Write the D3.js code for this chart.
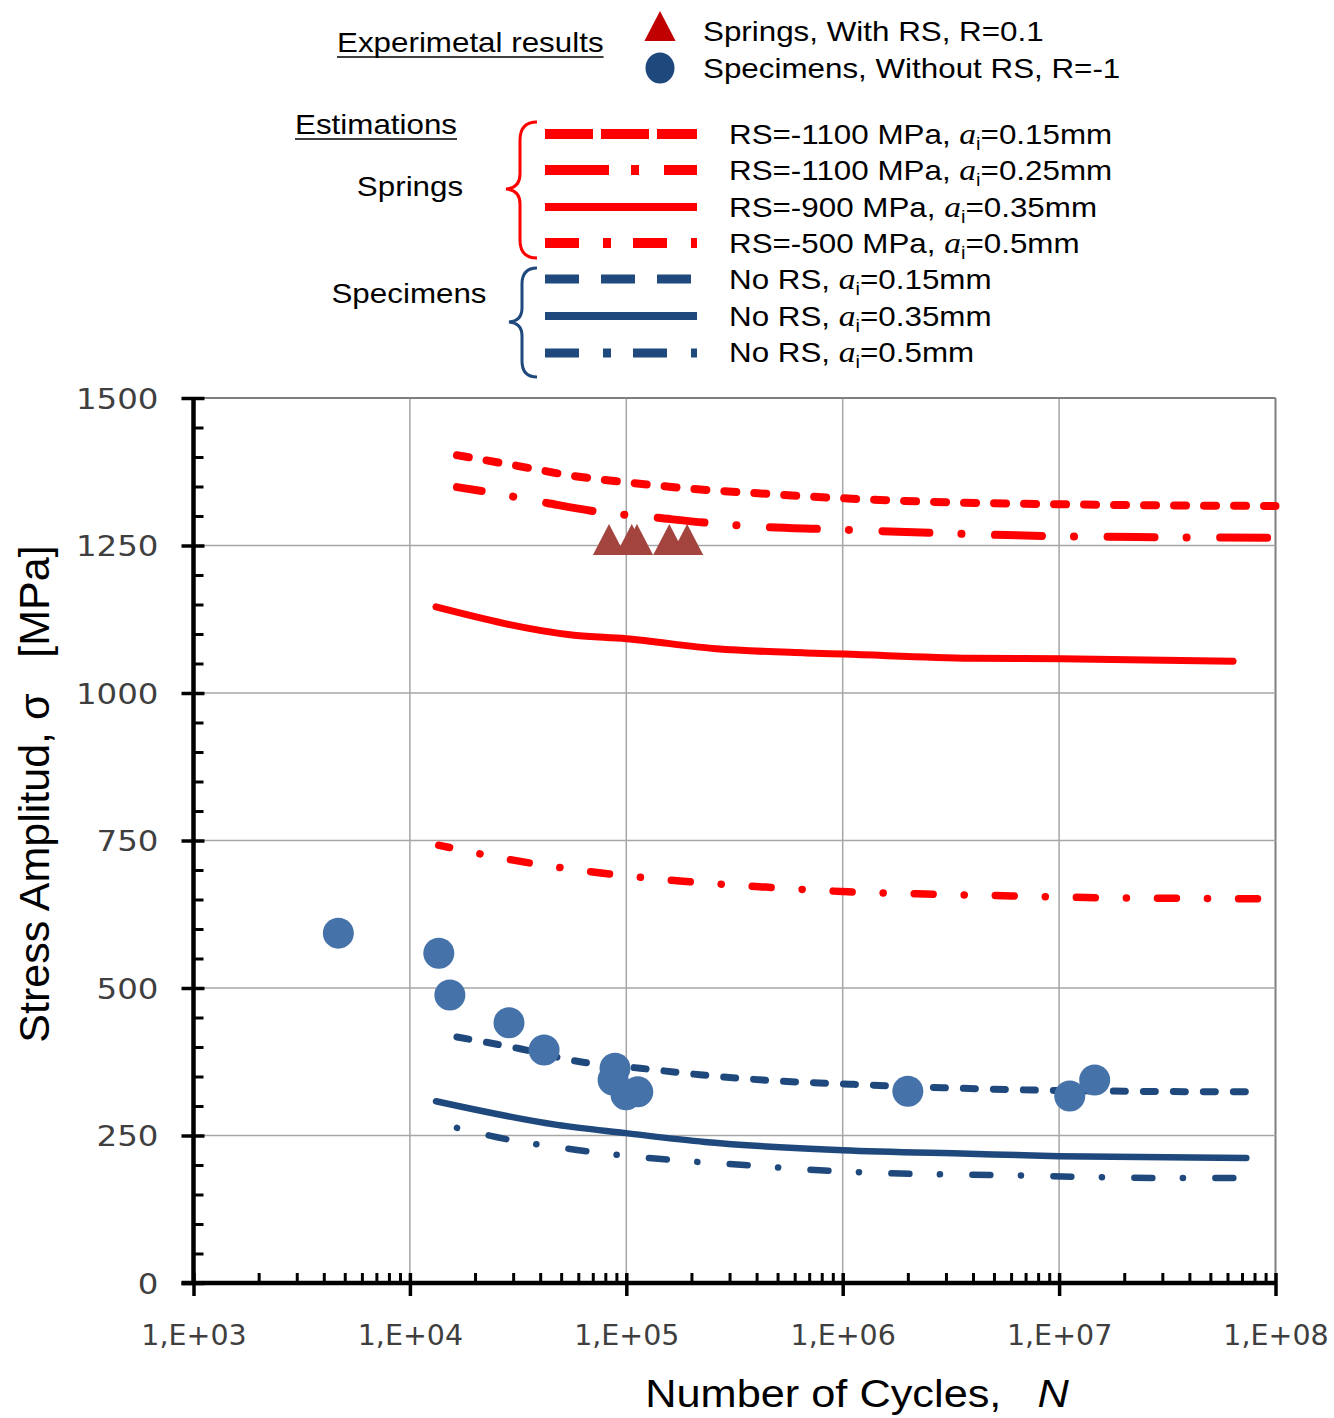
<!DOCTYPE html>
<html>
<head>
<meta charset="utf-8">
<script src="https://cdn.jsdelivr.net/npm/d3@7"></script>
<style>
  body { margin: 0; background: #fff; }
  svg { display: block; }
  text { white-space: pre; }
</style>
</head>
<body>
<svg id="chart" width="1334" height="1418"></svg>
<script>
// ---- data -------------------------------------------------------------
// Experimental results
const springCycles   = [83200, 106000, 112000, 158000, 191000];
const springStress   = [1260, 1260, 1260, 1260, 1260];
const specimenCycles = [4670, 13600, 15300, 28700, 41700, 88700, 86900, 99700, 113000, 2000000, 11200000, 14600000];
const specimenStress = [593, 559, 488, 441, 395, 364, 344, 319, 324, 325, 317, 344];

// Estimated S-N curves: [cycles, stress amplitude]
const estRS1100a015 = [[16500,1403],[31300,1385],[56700,1368],[107000,1356],[203000,1346],[385000,1339],[1000000,1330],[2610000,1324],[9780000,1320],[30200000,1318],[100000000,1317]];
const estRS1100a025 = [[16500,1349],[22700,1341],[43000,1322],[71600,1308],[139000,1297],[244000,1288],[461000,1281],[811000,1278],[2730000,1271],[9080000,1266],[30200000,1264],[100000000,1263]];
const estRS900a035  = [[13200,1146],[57300,1098],[99700,1092],[260000,1075],[677000,1068],[1010000,1066],[3920000,1059],[10200000,1058],[63700000,1054]];
const estRS500a05   = [[13600,742],[31900,715],[76400,695],[183000,681],[442000,671],[1060000,663],[2610000,659],[6250000,656],[15300000,653],[36200000,652],[100000000,651]];
const estNoRSa015   = [[16500,417],[32300,397],[61100,375],[116000,364],[219000,353],[428000,344],[1080000,337],[2900000,331],[7570000,327],[20600000,325],[80300000,324]];
const estNoRSa035   = [[13200,308],[47900,268],[99700,254],[231000,239],[1000000,225],[3840000,219],[10000000,215],[73300000,212]];
const estNoRSa05    = [[16500,263],[25300,247],[60500,225],[145000,210],[351000,200],[866000,190],[2080000,185],[5130000,183],[12300000,180],[29700000,178],[82600000,178]];

// Axis ticks
const yMajorTicks  = [0, 250, 500, 750, 1000, 1250, 1500];
const xMajorTicks  = [1e3, 1e4, 1e5, 1e6, 1e7, 1e8];
const xTickLabels  = ["1,E+03", "1,E+04", "1,E+05", "1,E+06", "1,E+07", "1,E+08"];

// Legend text
const expLabels     = ["Springs, With RS, R=0.1", "Specimens, Without RS, R=-1"];
const springPrefix  = ["RS=-1100 MPa, ", "RS=-1100 MPa, ", "RS=-900 MPa, ", "RS=-500 MPa, "];
const springSuffix  = ["=0.15mm", "=0.25mm", "=0.35mm", "=0.5mm"];
const specPrefix    = ["No RS, ", "No RS, ", "No RS, "];
const specSuffix    = ["=0.15mm", "=0.35mm", "=0.5mm"];

// ---- drawing ----------------------------------------------------------
const RED = "#ff0000", BLUE = "#1f497d", DOT_BLUE = "#4573a9", TRI_RED = "#a4443e";
const WIDE = 1.12;   // horizontal stretch used for all lettering
const svg = d3.select("#chart");
const plotL = 193.5, plotR = 1275.5, plotT = 398, plotB = 1283;

const x = d3.scaleLog().domain([1e3, 1e8]).range([plotL, plotR]);
const y = d3.scaleLinear().domain([0, 1500]).range([plotB, plotT]);

// grid
const grid = svg.append("g");
grid.selectAll("line.v").data(xMajorTicks.slice(1)).join("line")
  .attr("x1", d => x(d)).attr("x2", d => x(d)).attr("y1", plotT).attr("y2", plotB)
  .attr("stroke", d => d === 1e8 ? "#7f7f7f" : "#a6a6a6")
  .attr("stroke-width", d => d === 1e8 ? 2 : 1.5);
grid.selectAll("line.h").data(yMajorTicks.slice(1)).join("line")
  .attr("y1", d => y(d)).attr("y2", d => y(d)).attr("x1", plotL).attr("x2", plotR)
  .attr("stroke", d => d === 1500 ? "#7f7f7f" : "#a6a6a6")
  .attr("stroke-width", d => d === 1500 ? 2 : 1.5);

// minor ticks
const yMinor = d3.range(0, 1501, 50).filter(v => v % 250 !== 0);
const xMinor = [];
[1e3, 1e4, 1e5, 1e6, 1e7].forEach(dec => { for (let k = 2; k <= 9; k++) xMinor.push(dec * k); });

svg.append("g").attr("transform", `translate(${plotL},0)`)
  .call(d3.axisRight(y).tickValues(yMinor).tickSize(10).tickFormat(""))
  .call(g => g.select(".domain").remove())
  .call(g => g.selectAll("line").attr("stroke", "#000").attr("stroke-width", 3));

svg.append("g").attr("transform", `translate(0,${plotB})`)
  .call(d3.axisTop(x).tickValues(xMinor).tickSize(10).tickFormat(""))
  .call(g => g.select(".domain").remove())
  .call(g => g.selectAll("line").attr("stroke", "#000").attr("stroke-width", 3));

// major axes
const yAxis = svg.append("g").attr("transform", `translate(${plotL},0)`)
  .call(d3.axisLeft(y).tickValues(yMajorTicks).tickSize(12).tickFormat(d3.format("d")));
yAxis.select(".domain").attr("stroke", "#000").attr("stroke-width", 4.5).attr("d", `M0,${plotT}V${plotB}`);
yAxis.selectAll(".tick line").attr("x1", 11).attr("stroke", "#000").attr("stroke-width", 3.5);
yAxis.selectAll(".tick text")
  .attr("x", null).attr("dy", null)
  .attr("transform", "translate(-35,10) scale(1.12,1)")
  .attr("font-family", "DejaVu Sans").attr("font-size", 29).attr("fill", "#3f3f3f");

const xAxis = svg.append("g").attr("transform", `translate(0,${plotB})`)
  .call(d3.axisBottom(x).tickValues(xMajorTicks).tickSize(13).tickFormat((d, i) => xTickLabels[i]));
xAxis.select(".domain").attr("stroke", "#000").attr("stroke-width", 4.5).attr("d", `M${plotL - 12},0H${plotR}`);
xAxis.selectAll(".tick line").attr("y1", -10).attr("stroke", "#000").attr("stroke-width", 3.5);
xAxis.selectAll(".tick text").attr("y", 52).attr("dy", "0.35em")
  .attr("font-family", "DejaVu Sans").attr("font-size", 28.5).attr("fill", "#3f3f3f");

// estimation curves
const line = d3.line().x(d => x(d[0])).y(d => y(d[1])).curve(d3.curveMonotoneX);
const curves = [
  { data: estRS1100a015, color: RED,  w: 8,   dash: "12,18", off: 0 },
  { data: estRS1100a025, color: RED,  w: 8,   dash: "47,32,0.1,33.5", off: 22 },
  { data: estRS900a035,  color: RED,  w: 7,   dash: null, off: 0 },
  { data: estRS500a05,   color: RED,  w: 7.5, dash: "19,31,0.1,31", off: 8 },
  { data: estNoRSa015,   color: BLUE, w: 7,   dash: "12,18", off: 0 },
  { data: estNoRSa035,   color: BLUE, w: 6.5, dash: null, off: 0 },
  { data: estNoRSa05,    color: BLUE, w: 6.5, dash: "0.1,32.4,18,30.5", off: 0 }
];
svg.append("g").selectAll("path").data(curves).join("path")
  .attr("d", d => line(d.data))
  .attr("fill", "none")
  .attr("stroke", d => d.color)
  .attr("stroke-width", d => d.w)
  .attr("stroke-linecap", "round")
  .attr("stroke-linejoin", "round")
  .attr("stroke-dasharray", d => d.dash)
  .attr("stroke-dashoffset", d => d.off);

// experimental points: a slightly tall triangle centred on its bounding box
const tallTriangle = { draw(ctx, size) { const h = Math.sqrt(size); ctx.moveTo(0, -h / 2); ctx.lineTo(h * 0.52, h / 2); ctx.lineTo(-h * 0.52, h / 2); ctx.closePath(); } };
svg.append("g").selectAll("path").data(springCycles).join("path")
  .attr("d", d3.symbol().type(tallTriangle).size(31 * 31))
  .attr("transform", (d, i) => `translate(${x(d)},${y(springStress[i])})`)
  .attr("fill", TRI_RED);

svg.append("g").selectAll("circle").data(specimenCycles).join("circle")
  .attr("cx", d => x(d))
  .attr("cy", (d, i) => y(specimenStress[i]))
  .attr("r", 15.5)
  .attr("fill", DOT_BLUE);

// axis titles
svg.append("text")
  .attr("transform", "translate(49,794) rotate(-90)")
  .attr("text-anchor", "middle")
  .attr("font-family", "Liberation Sans, Arial, sans-serif")
  .attr("font-size", 43)
  .attr("fill", "#000")
  .text("Stress Amplitud, σ   [MPa]");

const xt = svg.append("text")
  .attr("transform", "translate(857,1407) scale(1.14,1)")
  .attr("text-anchor", "middle")
  .attr("font-family", "Liberation Sans, Arial, sans-serif")
  .attr("font-size", 38)
  .attr("fill", "#000");
xt.append("tspan").text("Number of Cycles,   ");
xt.append("tspan").attr("font-style", "italic").text("N");

// ---- legend -----------------------------------------------------------
const lg = svg.append("g")
  .attr("font-family", "Liberation Sans, Arial, sans-serif")
  .attr("font-size", 28)
  .attr("fill", "#000");

function wideText(x0, yb, anchor) {
  return lg.append("text")
    .attr("transform", `translate(${x0},${yb}) scale(${WIDE},1)`)
    .attr("text-anchor", anchor || "start");
}

// section headings (underlined)
function heading(txt, x0, yb) {
  const t = wideText(x0, yb).text(txt);
  const w = t.node().getComputedTextLength() * WIDE;
  lg.append("line").attr("x1", x0).attr("x2", x0 + w).attr("y1", yb + 5).attr("y2", yb + 5)
    .attr("stroke", "#000").attr("stroke-width", 1.6);
}
heading("Experimetal results", 337, 52);
heading("Estimations", 295, 134);

lg.append("path").attr("d", d3.symbol().type(tallTriangle).size(30 * 30)())
  .attr("transform", "translate(660,26)").attr("fill", "#c00000");
lg.append("ellipse").attr("cx", 660).attr("cy", 68).attr("rx", 14.5).attr("ry", 15.5).attr("fill", BLUE);
expLabels.forEach((d, i) => wideText(703, 41 + i * 37).text(d));

wideText(410, 196, "middle").text("Springs");
wideText(409, 303, "middle").text("Specimens");

// braces
lg.append("path")
  .attr("d", "M537,122 Q520,122 520,140 L520,174 Q520,188 506,189 Q520,190 520,204 L520,240 Q520,258 537,258")
  .attr("fill", "none").attr("stroke", RED).attr("stroke-width", 3);
lg.append("path")
  .attr("d", "M537,268 Q522,268 522,284 L522,308 Q522,321 509,322 Q522,323 522,336 L522,361 Q522,377 537,377")
  .attr("fill", "none").attr("stroke", BLUE).attr("stroke-width", 3);

// legend line samples
const legendRows = [
  { color: RED,  w: 10, dash: "48,8",        yy: 134 },
  { color: RED,  w: 10, dash: "64,22,8,25",  yy: 170 },
  { color: RED,  w: 8,  dash: null,          yy: 207 },
  { color: RED,  w: 10, dash: "34,24,8,22",  yy: 243 },
  { color: BLUE, w: 9,  dash: "34,22",       yy: 279 },
  { color: BLUE, w: 8,  dash: null,          yy: 316 },
  { color: BLUE, w: 9,  dash: "34,24,8,22",  yy: 353 }
];
lg.selectAll("line.sample").data(legendRows).join("line")
  .attr("x1", 545).attr("x2", 697)
  .attr("y1", d => d.yy).attr("y2", d => d.yy)
  .attr("stroke", d => d.color).attr("stroke-width", d => d.w)
  .attr("stroke-dasharray", d => d.dash);

function estLabel(prefix, suffix, yb) {
  const t = wideText(729, yb);
  t.append("tspan").text(prefix);
  t.append("tspan").attr("font-family", "Liberation Serif, Times New Roman, serif")
    .attr("font-style", "italic").attr("font-size", 30).text("a");
  t.append("tspan").attr("font-size", 18).attr("dy", 6).text("i");
  t.append("tspan").attr("dy", -6).text(suffix);
}
springPrefix.forEach((p, i) => estLabel(p, springSuffix[i], 144 + i * 36.3));
specPrefix.forEach((p, i) => estLabel(p, specSuffix[i], 289 + i * 36.5));
</script>
</body>
</html>
